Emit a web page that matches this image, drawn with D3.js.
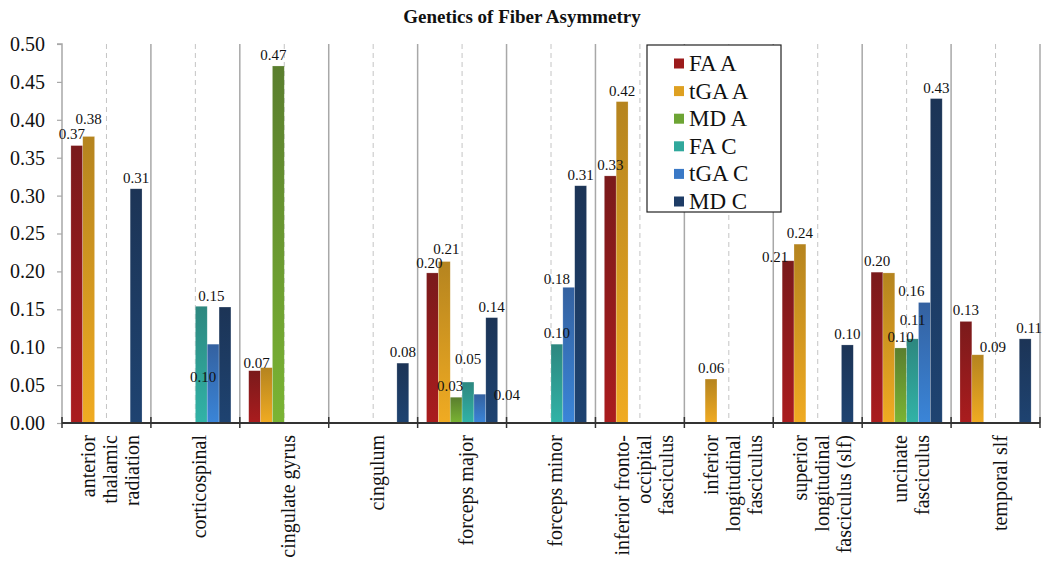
<!DOCTYPE html>
<html><head><meta charset="utf-8">
<script src="https://cdn.jsdelivr.net/npm/d3@7"></script>
<style>body{margin:0;background:#fff;} svg{display:block;}</style>
</head><body>
<svg id="chart" width="1050" height="569"></svg>
<script>
// ---- data ----
const categories = ["anterior thalamic radiation","corticospinal","cingulate gyrus","cingulum","forceps major","forceps minor","inferior fronto-occipital fasciculus","inferior longitudinal fasciculus","superior longitudinal fasciculus (slf)","uncinate fasciculus","temporal slf"];
const categoryLines = [["anterior","thalamic","radiation"],["corticospinal"],["cingulate gyrus"],["cingulum"],["forceps major"],["forceps minor"],["inferior fronto-","occipital","fasciculus"],["inferior","longitudinal","fasciculus"],["superior","longitudinal","fasciculus (slf)"],["uncinate","fasciculus"],["temporal slf"]];
const seriesNames = ["FA A","tGA A","MD A","FA C","tGA C","MD C"];
const FA_A  = [0.366, null, 0.069, null, 0.198, null, 0.326, null, 0.214, 0.199, 0.134];
const tGA_A = [0.378, null, 0.073, null, 0.213, null, 0.424, 0.058, 0.236, 0.198, 0.090];
const MD_A  = [null, null, 0.471, null, 0.034, null, null, null, null, 0.099, null];
const FA_C  = [null, 0.154, null, null, 0.054, 0.104, null, null, null, 0.111, null];
const tGA_C = [null, 0.104, null, null, 0.038, 0.179, null, null, null, 0.159, null];
const MD_C  = [0.309, 0.153, null, 0.079, 0.139, 0.313, null, null, 0.103, 0.428, 0.111];
const yTicks = [0,0.05,0.10,0.15,0.20,0.25,0.30,0.35,0.40,0.45,0.50];
const seriesValues = [FA_A, tGA_A, MD_A, FA_C, tGA_C, MD_C];

// ---- styles ----
const topColors = ["#7a1a1b","#b5841f","#5a7e2e","#2d877f","#3461a0","#1c3456"];
const botColors = ["#aa1c1e","#f0ab22","#7ab433","#31b3a7","#3a85d8","#1e4371"];
const legendColors = ["#9c1b1c","#dea021","#6da434","#30a89c","#3a79c6","#1e3c66"];
// labels hidden where they overlapped in the original, and small label nudges [dx, dy]
const hiddenLabels = new Set(["1-5","2-1","9-1"]);
const labelNudge = {"0-0":[-5,-1],"0-1":[0,-6],"1-3":[10,1],"1-4":[-10,44],"2-0":[2,3],"2-2":[-5,0],
  "4-0":[-3,1],"4-1":[2,-2],"4-2":[-6,0],"4-3":[0,-12],"4-4":[27,12],"5-4":[-12,3],"8-0":[-13,7],"9-3":[0,-8],"9-4":[-13,0],
  "10-1":[15,3],"10-5":[4,0]};

const svg = d3.select("#chart");
const serif = "'Liberation Serif','Times New Roman',serif";
const mLeft = 62, mRight = 1040, mTop = 44, mBottom = 423;

const x0 = d3.scaleBand().domain(d3.range(categories.length)).range([mLeft, mRight]).padding(0);
const x1 = d3.scaleBand().domain(d3.range(seriesNames.length)).range([0, x0.bandwidth()]).paddingInner(0).paddingOuter(0.75);
const y = d3.scaleLinear().domain([0, 0.5]).range([mBottom, mTop]);

// gradients
const defs = svg.append("defs");
seriesNames.forEach((s, j) => {
  const g = defs.append("linearGradient").attr("id", "grad" + j).attr("x1", 0).attr("y1", 0).attr("x2", 0).attr("y2", 1);
  g.append("stop").attr("offset", "0%").attr("stop-color", topColors[j]);
  g.append("stop").attr("offset", "100%").attr("stop-color", botColors[j]);
});

// title
svg.append("text").attr("x", 522).attr("y", 23).attr("text-anchor", "middle")
  .attr("font-family", serif).attr("font-weight", "bold").attr("font-size", 19).attr("fill", "#111")
  .text("Genetics of Fiber Asymmetry");

// separators
const boundaries = d3.range(categories.length + 1).map(i => i < categories.length ? x0(i) : mRight);
svg.append("g").selectAll("line").data(boundaries.slice(1)).join("line")
  .attr("x1", d => d).attr("x2", d => d).attr("y1", mTop).attr("y2", mBottom)
  .attr("stroke", "#a8a8a8").attr("stroke-width", 1.5);
svg.append("g").selectAll("line").data(d3.range(categories.length)).join("line")
  .attr("x1", i => x0(i) + x0.bandwidth() / 2).attr("x2", i => x0(i) + x0.bandwidth() / 2)
  .attr("y1", mTop).attr("y2", mBottom)
  .attr("stroke", "#c4c4c4").attr("stroke-width", 1).attr("stroke-dasharray", "5,4");

// y axis
const yAxis = d3.axisLeft(y).tickValues(yTicks).tickFormat(d3.format(".2f")).tickSize(5).tickPadding(12);
const ya = svg.append("g").attr("transform", `translate(${mLeft},0)`).call(yAxis);
ya.select(".domain").attr("stroke", "#a8a8a8").attr("stroke-width", 1.5).attr("d", `M-5,${mTop}H0V${mBottom}`);
ya.selectAll(".tick line").attr("stroke", "#a8a8a8").attr("stroke-width", 1.2);
ya.selectAll(".tick text").attr("font-family", serif).attr("font-size", 20).attr("fill", "#111");

// bars
const cells = [];
categories.forEach((c, i) => seriesValues.forEach((arr, j) => { if (arr[i] != null) cells.push({ i, j, v: arr[i] }); }));
svg.append("g").selectAll("rect").data(cells).join("rect")
  .attr("x", d => x0(d.i) + x1(d.j)).attr("width", x1.bandwidth())
  .attr("y", d => y(d.v)).attr("height", d => y(0) - y(d.v))
  .attr("fill", d => `url(#grad${d.j})`)
  .attr("stroke", "rgba(255,255,255,0.35)").attr("stroke-width", 0.6);

// value labels
svg.append("g").selectAll("text").data(cells.filter(d => !hiddenLabels.has(d.i + "-" + d.j))).join("text")
  .attr("x", d => x0(d.i) + x1(d.j) + x1.bandwidth() / 2 + (labelNudge[d.i + "-" + d.j] || [0, 0])[0])
  .attr("y", d => y(d.v) - 6 + (labelNudge[d.i + "-" + d.j] || [0, 0])[1])
  .attr("text-anchor", "middle").attr("font-family", serif).attr("font-size", 15).attr("fill", "#111")
  .text(d => d.v.toFixed(2));

// x axis line & ticks
svg.append("line").attr("x1", mLeft).attr("x2", mRight).attr("y1", mBottom).attr("y2", mBottom)
  .attr("stroke", "#333").attr("stroke-width", 2);
svg.append("g").selectAll("line").data(boundaries).join("line")
  .attr("x1", d => d).attr("x2", d => d).attr("y1", mBottom - 6).attr("y2", mBottom + 5)
  .attr("stroke", "#333").attr("stroke-width", 1.5);

// category labels
categoryLines.forEach((lines, i) => {
  const g = svg.append("g").attr("transform", `translate(${x0(i) + x0.bandwidth() / 2},435) rotate(-90)`);
  lines.forEach((ln, k) => {
    g.append("text").attr("x", 0).attr("y", (k - (lines.length - 1) / 2) * 22 + 4).attr("dy", "0.35em")
      .attr("text-anchor", "end").attr("font-family", serif).attr("font-size", 20).attr("fill", "#111")
      .text(ln);
  });
});

// legend
const lg = svg.append("g");
lg.append("rect").attr("x", 647).attr("y", 45).attr("width", 134).attr("height", 167)
  .attr("fill", "#fff").attr("stroke", "#222").attr("stroke-width", 1.2);
seriesNames.forEach((s, j) => {
  const cy = 63.5 + j * 27.6;
  lg.append("rect").attr("x", 674).attr("y", cy - 5).attr("width", 10).attr("height", 10).attr("fill", legendColors[j]);
  lg.append("text").attr("x", 689).attr("y", cy + 7.5).attr("font-family", serif).attr("font-size", 23).attr("fill", "#111").text(s);
});
</script>
</body></html>
